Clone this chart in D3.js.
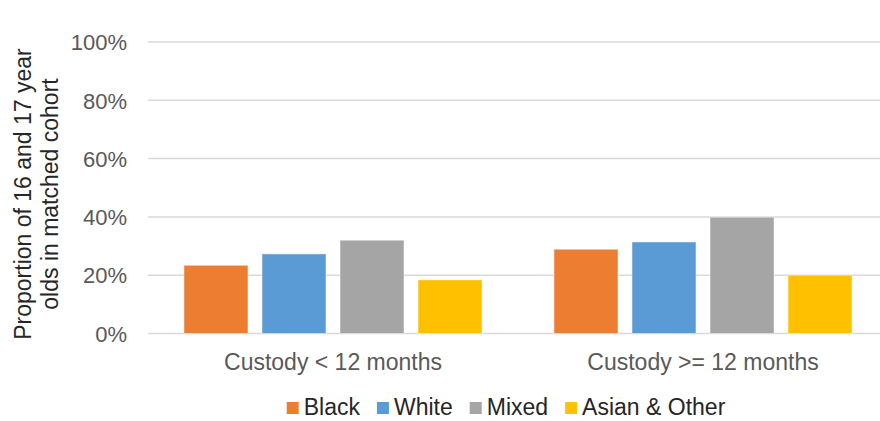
<!DOCTYPE html>
<html>
<head>
<meta charset="utf-8">
<script src="https://cdn.jsdelivr.net/npm/d3@7"></script>
<style>
  html, body { margin: 0; padding: 0; background: #ffffff; }
  svg { display: block; font-family: "Liberation Sans", Arial, sans-serif; }
</style>
</head>
<body>
<svg id="chart" width="880" height="421"></svg>
<script>
// Custody length groups and ethnicity series
const categories = ["Custody < 12 months", "Custody >= 12 months"];
const seriesNames = ["Black", "White", "Mixed", "Asian & Other"];
const seriesColors = ["#ED7D31", "#5B9BD5", "#A5A5A5", "#FFC000"];
const blackValues = [0.234, 0.289];
const whiteValues = [0.273, 0.314];
const mixedValues = [0.320, 0.399];
const asianOtherValues = [0.184, 0.200];
const yTicks = [0, 0.2, 0.4, 0.6, 0.8, 1.0];
const yTitleLines = ["Proportion of 16 and 17 year", "olds in matched cohort"];

const seriesValues = [blackValues, whiteValues, mixedValues, asianOtherValues];
const rows = categories.map((c, i) => ({
  category: c,
  values: seriesNames.map((s, j) => ({ series: s, value: seriesValues[j][i], color: seriesColors[j] }))
}));

const svg = d3.select("#chart");
const plot = { left: 148, right: 888, top: 42, bottom: 333.5 };

const x0 = d3.scaleBand().domain(categories).range([plot.left, plot.right]).padding(0);
const groupOuter = 36;
const x1 = d3.scaleBand().domain(seriesNames)
  .range([groupOuter, x0.bandwidth() - groupOuter])
  .paddingInner(0.18).paddingOuter(0);
const y = d3.scaleLinear().domain([0, 1]).range([plot.bottom, plot.top]);

// Horizontal gridlines
svg.append("g").selectAll("line").data(yTicks).join("line")
  .attr("x1", plot.left).attr("x2", plot.right)
  .attr("y1", d => y(d)).attr("y2", d => y(d))
  .attr("stroke", "#d9d9d9").attr("stroke-width", 1.5);

// Y axis tick labels
const yAxis = d3.axisLeft(y).tickValues(yTicks).tickFormat(d3.format(".0%")).tickSize(0).tickPadding(0);
const yg = svg.append("g").attr("transform", `translate(127,0)`).call(yAxis);
yg.select(".domain").remove();
yg.selectAll("text")
  .attr("font-family", "Liberation Sans, Arial, sans-serif")
  .attr("font-size", 22).attr("fill", "#595959").attr("dy", "0.35em");

// Bars
const groups = svg.append("g").selectAll("g").data(rows).join("g")
  .attr("transform", d => `translate(${x0(d.category)},0)`);
groups.selectAll("rect").data(d => d.values).join("rect")
  .attr("x", d => x1(d.series))
  .attr("width", x1.bandwidth())
  .attr("y", d => y(d.value))
  .attr("height", d => y(0) - y(d.value))
  .attr("fill", d => d.color)
  .attr("stroke", "#ffffff").attr("stroke-opacity", 0.45).attr("stroke-width", 1);

// Category labels
const xAxis = d3.axisBottom(x0).tickSize(0).tickPadding(0);
const xg = svg.append("g").attr("transform", `translate(0,362)`).call(xAxis);
xg.select(".domain").remove();
xg.selectAll("text")
  .attr("font-family", "Liberation Sans, Arial, sans-serif")
  .attr("font-size", 23).attr("fill", "#595959").attr("dy", "0.35em");

// Y axis title
const title = svg.append("text")
  .attr("transform", "translate(23,194) rotate(-90)")
  .attr("text-anchor", "middle")
  .attr("font-size", 23).attr("fill", "#262626");
yTitleLines.forEach((t, i) => {
  title.append("tspan").attr("x", 0).attr("y", i * 27).attr("dy", "0.35em").text(t);
});

// Legend: markers and labels laid out left to right
const legendY = 407, markerSize = 12, markerGap = 5, itemGap = 17;
const legend = svg.append("g");
const labels = legend.selectAll("text").data(seriesNames).join("text")
  .attr("y", legendY).attr("dy", "0.35em")
  .attr("font-size", 23).attr("fill", "#262626").text(d => d);
const widths = labels.nodes().map(n => n.getComputedTextLength());
const total = d3.sum(widths) + seriesNames.length * (markerSize + markerGap) + (seriesNames.length - 1) * itemGap;
let cursor = 506 - total / 2;
const starts = widths.map(w => { const s = cursor; cursor += markerSize + markerGap + w + itemGap; return s; });
legend.selectAll("rect").data(seriesNames).join("rect")
  .attr("x", (d, i) => starts[i]).attr("y", legendY - markerSize / 2 + 1)
  .attr("width", markerSize).attr("height", markerSize)
  .attr("fill", (d, i) => seriesColors[i]);
labels.attr("x", (d, i) => starts[i] + markerSize + markerGap);
</script>
</body>
</html>
